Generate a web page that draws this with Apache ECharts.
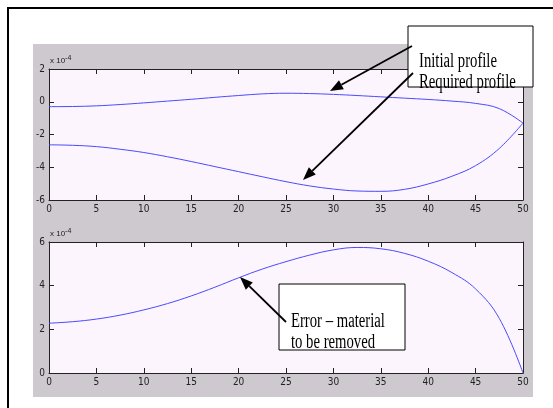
<!DOCTYPE html>
<html>
<head>
<meta charset="utf-8">
<script src="https://cdn.jsdelivr.net/npm/echarts@6/dist/echarts.min.js"></script>
<style>
html,body{margin:0;padding:0;background:#fff;}
#c{width:553px;height:408px;}
</style>
</head>
<body>
<div id="c"></div>
<script>
// Data (values in units of 1e-4)
const xValues = [0, 2.5, 5, 7.5, 10, 12.5, 15, 17.5, 20, 22.5, 25, 27.5, 30, 32.5, 35, 37.5, 40, 42.5, 45, 47.5, 50];
const initialProfile = [-0.30, -0.29, -0.25, -0.17, -0.07, 0.04, 0.15, 0.27, 0.38, 0.48, 0.52, 0.50, 0.45, 0.38, 0.30, 0.22, 0.14, 0.04, -0.10, -0.42, -1.30];
const requiredProfile = [-2.63, -2.66, -2.74, -2.90, -3.10, -3.36, -3.65, -3.96, -4.27, -4.58, -4.88, -5.14, -5.33, -5.45, -5.47, -5.35, -5.02, -4.55, -3.90, -2.85, -1.30];
const errorMaterial = [2.28, 2.35, 2.47, 2.65, 2.89, 3.18, 3.53, 3.93, 4.36, 4.76, 5.10, 5.40, 5.64, 5.75, 5.69, 5.48, 5.12, 4.60, 3.85, 2.50, 0];
const xTicks = {min: 0, max: 50, interval: 5};
const yTicksTop = {min: -6, max: 2, interval: 2};
const yTicksBottom = {min: 0, max: 6, interval: 2};
const annotationTop = ['Initial profile', 'Required profile'];
const annotationBottom = ['Error \u2013 material', 'to be removed'];
const exponentLabel = '-4';

const pair = (ys) => xValues.map((x, i) => [x, ys[i]]);

const chart = echarts.init(document.getElementById('c'), null, {renderer: 'canvas'});

const labelFont = {fontSize: 10, color: '#222', fontFamily: "'Liberation Sans Narrow', 'DejaVu Sans Condensed', Arial, sans-serif"};
const tickStyle = {show: true, inside: true, length: 5, lineStyle: {color: '#222', width: 1}};
const axisLineStyle = {show: true, onZero: false, lineStyle: {color: '#222', width: 1}};

function xAxes(gi) {
  return [
    Object.assign({type: 'value', gridIndex: gi, position: 'bottom', axisLine: axisLineStyle, axisTick: tickStyle, axisLabel: Object.assign({margin: 4}, labelFont), splitLine: {show: false}}, xTicks),
    Object.assign({type: 'value', gridIndex: gi, position: 'top', axisLine: axisLineStyle, axisTick: tickStyle, axisLabel: {show: false}, splitLine: {show: false}}, xTicks)
  ];
}
function yAxes(gi, t) {
  return [
    Object.assign({type: 'value', gridIndex: gi, position: 'left', axisLine: axisLineStyle, axisTick: tickStyle, axisLabel: Object.assign({margin: 4}, labelFont), splitLine: {show: false}}, t),
    Object.assign({type: 'value', gridIndex: gi, position: 'right', axisLine: axisLineStyle, axisTick: tickStyle, axisLabel: {show: false}, splitLine: {show: false}}, t)
  ];
}

function arrow(tail, tip) {
  const dx = tip[0] - tail[0], dy = tip[1] - tail[1];
  const L = Math.sqrt(dx * dx + dy * dy);
  const ux = dx / L, uy = dy / L;
  const hl = 13, hw = 5;
  const bx = tip[0] - ux * hl, by = tip[1] - uy * hl;
  return [
    {type: 'line', z: 100, shape: {x1: tail[0], y1: tail[1], x2: bx, y2: by}, style: {stroke: '#000', lineWidth: 1.8}},
    {type: 'polygon', z: 100, shape: {points: [tip, [bx - uy * hw, by + ux * hw], [bx + uy * hw, by - ux * hw]]}, style: {fill: '#000'}}
  ];
}

const serifText = (txt, x, y) => ({type: 'text', z: 101, x: x, y: y, scaleX: 0.735, style: {text: txt, fontSize: 20, fontFamily: "'Liberation Serif', 'Times New Roman', serif", fill: '#000', textBaseline: 'alphabetic'}});

const expLabel = (x, y) => ({type: 'text', z: 50, x: x, y: y, style: {text: 'x 10{s|' + exponentLabel + '}', fontSize: 8, fontFamily: "'Liberation Sans Narrow', Arial, sans-serif", fill: '#222', textVerticalAlign: 'middle', rich: {s: {fontSize: 7, verticalAlign: 'top', padding: [0, 0, 6, 0]}}}});

const graphics = [
  {type: 'rect', z: -10, shape: {x: 8, y: 8, width: 600, height: 450}, style: {fill: '#fff', stroke: '#000', lineWidth: 2}},
  {type: 'rect', z: -9, shape: {x: 33, y: 44, width: 500, height: 353}, style: {fill: '#cdc9ce'}},
  expLabel(50, 61),
  expLabel(50, 234),
  {type: 'rect', z: 99, shape: {x: 408, y: 26, width: 125, height: 61}, style: {fill: '#fff', stroke: '#000', lineWidth: 1}},
  serifText(annotationTop[0], 419, 52),
  serifText(annotationTop[1], 419, 73),
  {type: 'rect', z: 99, shape: {x: 279, y: 284, width: 126, height: 66}, style: {fill: '#fff', stroke: '#000', lineWidth: 1}},
  serifText(annotationBottom[0], 291, 312),
  serifText(annotationBottom[1], 291, 333)
].concat(arrow([412, 46], [330, 91]), arrow([413, 73], [303, 180]), arrow([286, 322], [240, 277]));

const lineStyle = {color: '#4a4aff', width: 1};

chart.setOption({
  animation: false,
  backgroundColor: '#fff',
  grid: [
    {left: 49, top: 69, width: 474, height: 131, show: true, backgroundColor: '#fdf5fd', borderColor: '#222', borderWidth: 0, containLabel: false},
    {left: 49, top: 242, width: 474, height: 131, show: true, backgroundColor: '#fdf5fd', borderColor: '#222', borderWidth: 0, containLabel: false}
  ],
  xAxis: xAxes(0).concat(xAxes(1)),
  yAxis: yAxes(0, yTicksTop).concat(yAxes(1, yTicksBottom)),
  series: [
    {type: 'line', xAxisIndex: 0, yAxisIndex: 0, data: pair(initialProfile), smooth: 0.4, showSymbol: false, lineStyle: lineStyle, color: '#4a4aff'},
    {type: 'line', xAxisIndex: 0, yAxisIndex: 0, data: pair(requiredProfile), smooth: 0.4, showSymbol: false, lineStyle: lineStyle, color: '#4a4aff'},
    {type: 'line', xAxisIndex: 2, yAxisIndex: 2, data: pair(errorMaterial), smooth: 0.4, showSymbol: false, lineStyle: lineStyle, color: '#4a4aff'}
  ],
  graphic: graphics
});
</script>
</body>
</html>
